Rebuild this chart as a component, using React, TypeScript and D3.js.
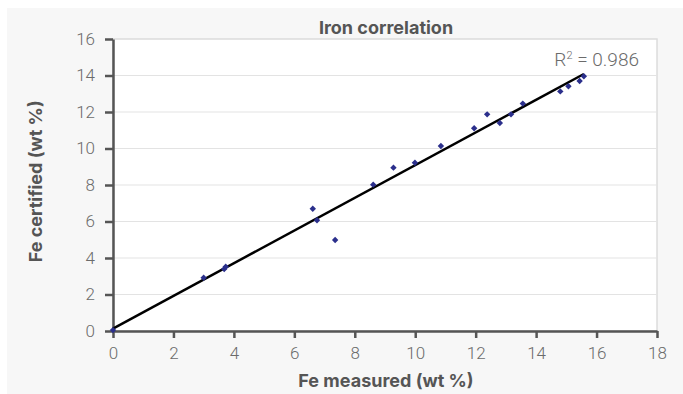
import React, { useEffect, useRef } from "react";
import * as d3 from "d3";

// Fe measured (x) vs Fe certified (y), wt %
const measured = [0, 3.0, 3.68, 3.73, 6.61, 6.75, 7.35, 8.61, 9.28, 9.99, 10.85, 11.95, 12.38, 12.8, 13.17, 13.56, 14.8, 15.07, 15.44, 15.58];
const certified = [0.05, 2.92, 3.4, 3.52, 6.7, 6.07, 4.99, 8.02, 8.95, 9.22, 10.14, 11.11, 11.87, 11.4, 11.87, 12.46, 13.13, 13.41, 13.7, 13.96];
const xTicks = [0, 2, 4, 6, 8, 10, 12, 14, 16, 18];
const yTicks = [0, 2, 4, 6, 8, 10, 12, 14, 16];
const rSquared = "0.986";

const W = 683;
const H = 394;
const margin = { top: 39, left: 113 };
const BOLD = "Inter, 'Liberation Sans', sans-serif";
const LIGHT = "Roboto, 'Liberation Sans', sans-serif";

export default function App() {
  const ref = useRef<SVGSVGElement>(null);

  useEffect(() => {
    const svg = d3.select(ref.current);
    svg.selectAll("*").remove();

    svg.append("rect").attr("x", 7).attr("y", 8).attr("width", W - 7).attr("height", H - 8).attr("fill", "#f7f7f7");

    const x = d3.scaleLinear().domain([0, 18]).range([0, 544]);
    const y = d3.scaleLinear().domain([0, 16]).range([292, 0]);

    const g = svg.append("g").attr("transform", `translate(${margin.left},${margin.top})`);

    g.append("rect").attr("width", x(18)).attr("height", y(0)).attr("fill", "#fff")
      .attr("stroke", "#dcdcdc").attr("stroke-width", 1.5);

    // gridlines
    g.selectAll("line.grid").data(yTicks.filter(t => t > 0 && t < 16)).join("line")
      .attr("class", "grid")
      .attr("x1", 0).attr("x2", x(18))
      .attr("y1", d => y(d)).attr("y2", d => y(d))
      .attr("stroke", "#e3e3e3").attr("stroke-width", 1);

    // axes
    const xAxis = g.append("g").attr("transform", `translate(0,${y(0)})`)
      .call(d3.axisBottom(x).tickValues(xTicks).tickSize(7).tickPadding(9).tickSizeOuter(0));
    const yAxis = g.append("g")
      .call(d3.axisLeft(y).tickValues(yTicks).tickSize(8).tickPadding(10).tickSizeOuter(0));
    [xAxis, yAxis].forEach(a => {
      a.select(".domain").attr("stroke", "#555").attr("stroke-width", 2.5);
      a.selectAll(".tick line").attr("stroke", "#555").attr("stroke-width", 2.5);
      a.selectAll(".tick text").attr("fill", "#6b6b6b")
        .style("font-family", LIGHT).style("font-weight", "300").style("font-size", "17px");
    });

    // least-squares trendline
    const n = measured.length;
    const mx = d3.mean(measured) as number;
    const my = d3.mean(certified) as number;
    let sxy = 0, sxx = 0;
    for (let i = 0; i < n; i++) {
      sxy += (measured[i] - mx) * (certified[i] - my);
      sxx += (measured[i] - mx) ** 2;
    }
    const slope = sxy / sxx;
    const icpt = my - slope * mx;
    const xMax = d3.max(measured) as number;
    g.append("line")
      .attr("x1", x(0)).attr("y1", y(icpt))
      .attr("x2", x(xMax)).attr("y2", y(icpt + slope * xMax))
      .attr("stroke", "#000").attr("stroke-width", 2.5);

    // points
    const pts = measured.map((m, i) => [m, certified[i]]);
    g.selectAll("path.pt").data(pts).join("path")
      .attr("class", "pt")
      .attr("d", d => {
        const cx = x(d[0]), cy = y(d[1]), r = 3.2;
        return `M${cx},${cy - r}L${cx + r},${cy}L${cx},${cy + r}L${cx - r},${cy}Z`;
      })
      .attr("fill", "#2b2f8c");

    // R² label
    const rt = g.append("text").attr("x", 639 - margin.left).attr("y", 66 - margin.top).attr("text-anchor", "end")
      .attr("fill", "#6b6b6b").style("font-family", LIGHT).style("font-weight", "300").style("font-size", "19px");
    rt.append("tspan").text("R");
    rt.append("tspan").attr("dy", -7).style("font-size", "11px").text("2");
    rt.append("tspan").attr("dy", 7).text(` = ${rSquared}`);

    // titles
    const bold = (sel: any) => sel.attr("fill", "#555").style("font-family", BOLD)
      .style("font-size", "18px").style("font-weight", "bold");
    bold(svg.append("text").attr("x", 386).attr("y", 34).attr("text-anchor", "middle").text("Iron correlation"));
    bold(svg.append("text").attr("x", 386).attr("y", 387).attr("text-anchor", "middle").text("Fe measured (wt %)"));
    bold(svg.append("text").attr("transform", `translate(42,${margin.top + y(8.2)}) rotate(-90)`)
      .attr("text-anchor", "middle").text("Fe certified (wt %)"));
  }, []);

  return (
    <div style={{ position: "absolute", left: 0, top: 0 }}>
      <svg ref={ref} width={W} height={H} style={{ display: "block" }} />
    </div>
  );
}
